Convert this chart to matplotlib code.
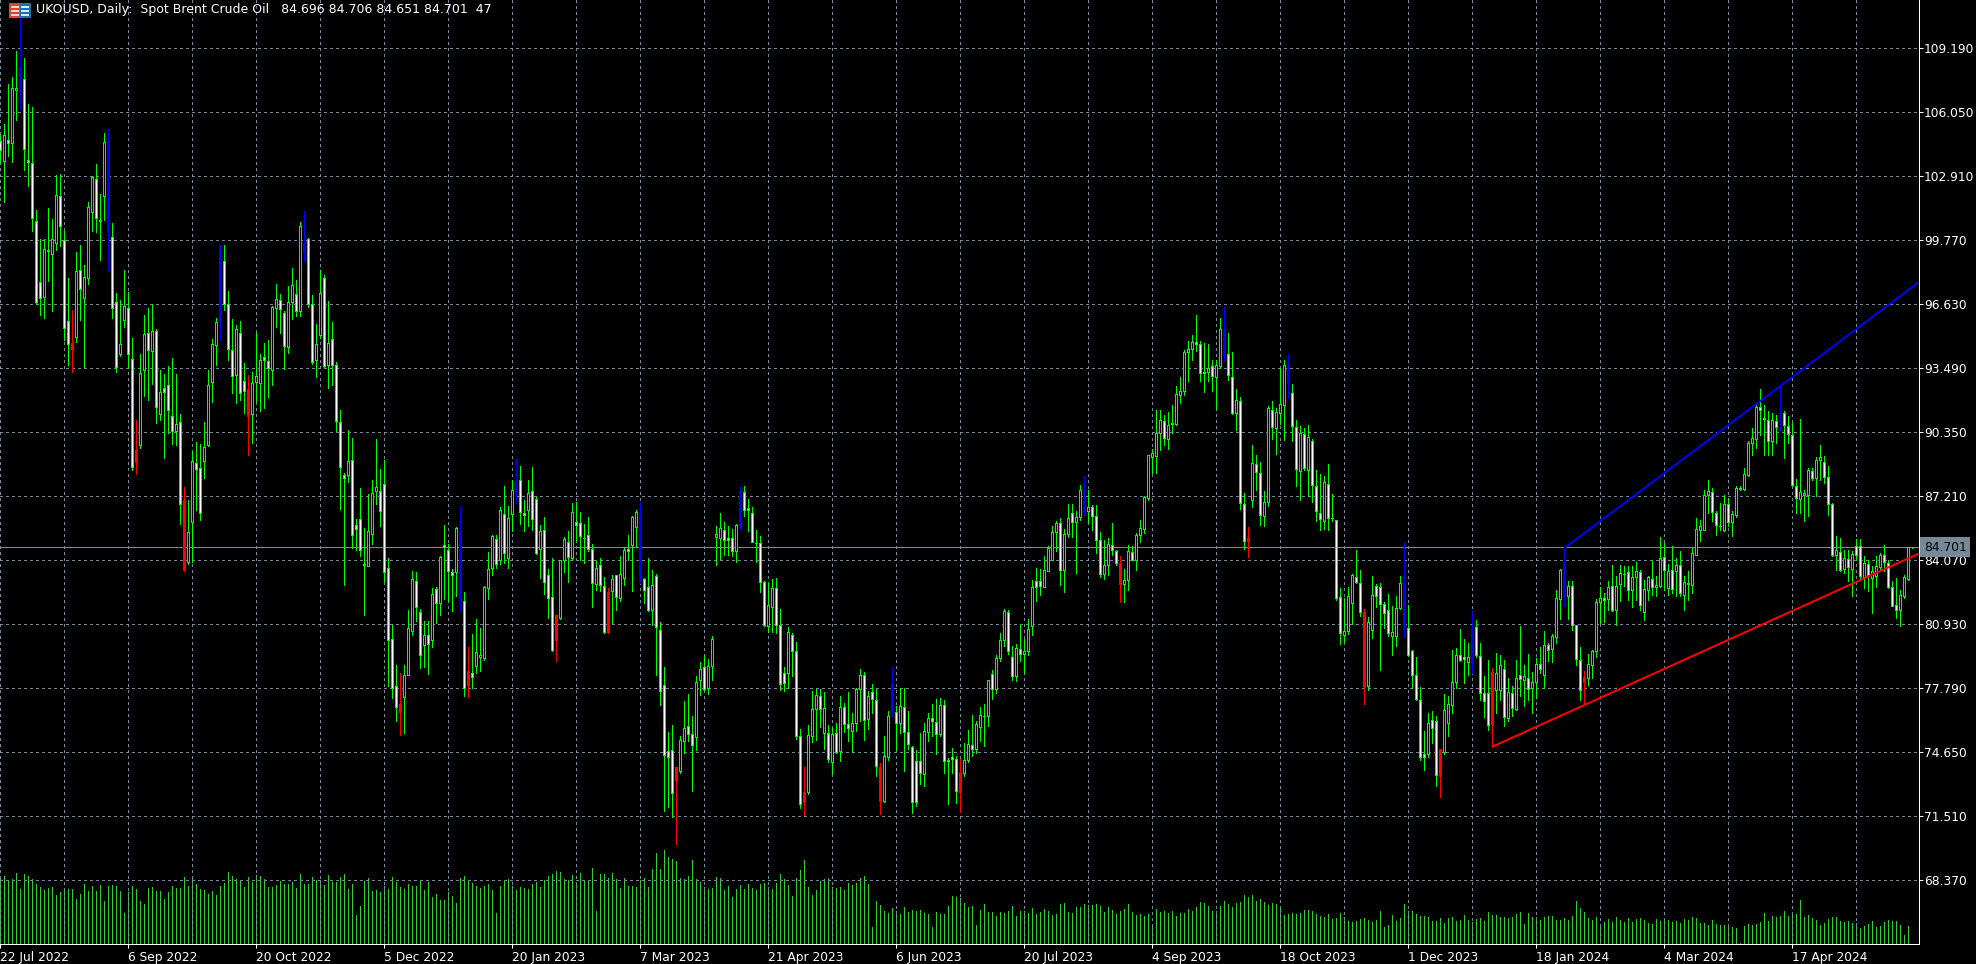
import numpy as np
import matplotlib
matplotlib.use('Agg')
import matplotlib.pyplot as plt
from matplotlib.patches import Rectangle

# daily bars
opens = [
    104.64,103.65,104.68,104.53,107.13,108.24,107.67,103.68,103.53,100.69,
    97.69,96.97,99.30,99.08,99.62,101.93,99.75,95.80,94.72,95.01,
    98.30,96.92,97.89,101.14,102.76,100.69,101.93,104.63,99.92,96.73,
    94.19,95.85,96.43,93.93,89.47,89.70,93.39,95.21,94.32,95.31,
    91.22,92.51,92.64,91.12,90.38,90.84,87.03,83.97,85.95,88.83,
    88.58,88.91,89.70,92.80,94.62,99.49,98.72,96.63,94.37,93.15,
    95.21,92.84,92.46,91.22,92.79,92.76,94.03,93.83,93.39,96.43,
    96.83,96.19,94.52,96.73,97.12,96.29,99.62,99.82,96.63,93.88,
    95.11,97.91,93.64,94.91,93.64,90.84,88.22,88.22,88.96,85.80,
    86.10,83.89,83.79,85.36,87.46,87.44,87.82,83.67,80.20,77.91,
    77.02,77.36,78.45,80.57,83.03,81.52,79.90,80.39,80.14,82.64,
    81.98,84.80,84.56,83.47,83.47,85.51,82.08,78.61,78.55,78.85,
    79.31,79.25,82.70,83.68,85.10,84.05,86.31,84.17,86.33,87.96,
    87.99,86.38,86.51,87.46,87.06,84.59,85.52,83.32,82.24,81.36,
    81.21,84.07,84.94,84.17,85.93,85.89,85.17,85.28,84.61,82.89,
    83.81,82.79,82.52,82.53,83.33,82.21,83.19,84.61,84.79,85.69,
    86.42,83.14,82.73,81.62,83.27,80.64,77.92,74.68,74.75,73.93,
    73.70,75.20,75.93,75.53,75.39,78.17,78.80,77.77,78.85,85.18,
    85.15,85.52,85.15,85.13,84.51,87.47,87.41,86.62,86.36,84.90,
    84.89,82.99,80.82,81.76,82.68,80.87,78.53,78.51,80.39,79.59,
    75.42,72.67,72.69,75.45,76.76,77.40,75.58,75.58,74.16,75.58,
    74.68,76.84,76.02,75.68,76.07,77.74,78.41,76.25,77.58,77.20,
    73.93,72.23,74.39,77.99,76.60,76.07,76.86,75.61,74.90,74.21,
    74.19,73.57,75.63,76.30,76.12,75.52,76.96,74.27,74.41,74.30,
    73.64,73.62,74.24,74.98,74.80,75.86,76.40,76.42,78.48,77.74,
    79.25,80.14,81.50,79.31,78.36,79.70,79.46,79.60,80.82,83.04,
    83.02,82.73,83.51,84.09,85.44,85.89,83.56,85.35,86.36,85.93,
    86.16,87.52,86.46,86.67,86.23,85.05,83.38,83.82,84.79,84.50,
    83.92,82.89,83.07,84.46,84.09,85.30,85.59,87.11,89.12,89.16,
    90.30,90.87,90.01,90.74,90.76,92.17,92.35,94.26,94.41,94.77,
    94.67,93.29,93.29,93.57,93.03,93.60,95.37,94.18,93.05,91.28,
    91.85,86.80,85.17,87.01,88.78,88.34,86.21,86.92,91.43,90.55,
    91.28,91.67,93.60,92.26,90.60,88.42,90.27,88.47,89.91,87.68,
    86.36,85.97,87.80,86.13,86.03,82.24,80.39,80.59,81.96,83.24,
    82.93,81.50,77.87,80.65,82.79,82.74,81.93,81.60,80.36,80.33,
    81.72,82.94,80.72,79.60,78.41,77.20,74.57,74.54,76.22,76.15,
    74.81,74.67,76.07,76.96,78.07,79.41,79.31,79.05,80.80,80.78,
    79.36,77.55,77.56,78.56,77.71,77.68,78.72,76.32,77.55,76.78,
    78.43,78.17,78.28,77.79,78.09,78.97,78.41,79.90,79.69,80.28,
    82.17,83.97,82.32,82.79,80.87,79.15,78.31,78.28,78.94,79.59,
    81.99,82.21,82.14,82.79,81.63,82.91,83.40,83.48,82.58,83.24,
    83.50,81.52,82.58,83.15,82.75,82.78,84.20,82.70,83.56,83.51,
    83.81,82.34,82.88,82.86,84.33,85.54,85.54,87.24,87.41,86.38,
    85.72,85.56,86.82,85.92,86.29,87.55,87.55,88.22,89.79,90.02,
    91.58,90.97,90.92,89.89,90.87,90.60,91.28,90.63,90.20,87.69,
    87.08,87.26,87.28,88.42,88.08,88.96,88.86,88.14,86.82,84.30,
    84.45,83.63,84.12,83.63,84.77,84.74,83.24,83.87,83.17,83.27,
    83.73,84.33,83.92,82.75,81.86,81.60,82.32,83.14,84.696,
]
closes = [
    104.17,104.92,104.53,107.21,107.23,107.02,104.24,103.60,100.85,96.73,
    96.92,99.33,99.21,99.82,101.98,100.46,95.45,94.67,94.44,98.25,
    97.35,97.96,101.39,102.88,100.83,100.75,104.58,100.21,96.43,93.52,
    94.67,96.53,94.18,88.63,88.86,93.25,95.16,94.37,95.31,91.58,
    92.31,92.31,91.41,90.38,90.73,86.82,83.60,85.45,88.93,88.54,
    86.38,89.61,92.66,94.67,95.75,95.73,96.65,94.42,93.10,95.40,
    92.26,92.36,91.12,92.76,93.10,93.88,93.88,93.51,96.48,96.88,
    96.39,94.57,96.73,97.56,96.29,100.46,99.13,96.63,93.78,94.67,
    97.17,93.59,94.72,93.64,90.89,88.63,88.08,88.93,85.31,85.61,
    84.58,83.83,85.51,87.37,87.65,86.47,83.50,80.13,77.81,76.86,
    76.62,78.41,80.73,83.13,81.78,79.40,80.39,79.94,82.40,81.98,
    84.22,84.70,83.51,83.33,85.65,82.12,77.81,77.95,78.31,79.54,
    79.43,82.75,83.63,85.23,83.87,86.51,84.41,86.11,87.50,87.28,
    86.42,86.26,87.36,86.08,84.41,85.49,82.99,82.20,79.67,80.13,
    84.07,85.12,84.20,86.42,85.77,85.25,85.13,84.61,82.92,83.68,
    82.83,80.54,80.54,83.12,82.25,83.38,84.56,84.50,86.18,86.42,
    83.04,82.61,81.63,82.84,80.78,77.64,74.52,74.39,72.64,73.26,
    75.24,75.83,75.53,74.98,78.10,78.72,77.74,78.87,80.21,85.33,
    85.64,85.05,85.05,84.51,85.79,85.64,86.52,86.51,84.95,84.89,
    82.99,80.87,81.86,82.70,80.90,77.97,78.04,80.54,79.60,75.45,
    72.12,72.20,75.48,76.76,77.45,76.76,76.79,74.30,75.53,74.67,
    76.86,76.04,75.83,76.07,77.74,78.41,76.22,77.40,77.25,73.95,
    72.23,74.44,76.42,76.60,76.07,76.89,75.63,75.04,72.21,72.18,
    73.62,75.68,76.32,76.19,75.53,76.96,74.21,74.19,74.30,72.74,
    72.70,74.27,75.04,74.78,76.04,76.46,76.42,78.18,77.74,79.26,
    80.14,81.57,79.60,78.36,79.74,79.46,79.60,80.68,82.73,82.74,
    82.81,83.59,84.66,85.44,85.89,83.56,85.35,86.13,85.93,86.16,
    87.50,86.46,86.67,86.24,85.05,83.38,83.82,84.85,84.56,83.92,
    82.89,83.07,84.50,84.09,85.30,85.62,87.16,89.22,89.32,90.30,
    90.94,90.04,90.69,90.79,92.21,92.35,94.29,94.41,94.78,94.67,
    93.23,93.23,93.49,93.08,93.62,95.40,94.14,93.13,91.28,91.92,
    86.87,85.00,84.99,88.83,88.39,86.28,86.92,91.53,90.58,91.33,
    91.71,93.62,92.75,90.63,88.53,90.30,88.57,90.10,87.75,86.47,
    86.08,87.90,86.11,86.13,82.19,80.49,80.59,82.29,83.33,82.97,
    81.52,77.90,81.01,82.35,82.30,81.93,81.47,80.49,80.52,81.70,
    82.94,80.68,79.41,78.43,77.25,74.39,74.40,76.07,75.81,73.52,
    73.46,76.73,77.01,78.09,79.41,79.18,79.21,79.31,79.00,79.39,
    77.53,77.14,75.99,76.01,78.53,78.92,76.37,77.59,76.81,78.28,
    78.25,78.38,77.76,78.10,78.97,78.71,79.90,79.67,80.36,82.21,
    83.60,82.32,82.78,80.88,79.21,77.71,78.07,78.97,79.61,82.01,
    82.21,82.09,82.75,81.63,82.79,83.43,83.40,82.58,83.24,83.53,
    81.85,82.65,83.24,82.75,82.84,84.17,83.58,83.51,82.66,83.81,
    82.43,82.99,82.94,84.41,85.59,85.75,87.26,87.46,86.41,85.77,
    85.72,86.82,85.93,86.33,87.60,87.62,88.27,89.81,90.04,91.58,
    91.41,91.04,89.93,90.92,90.60,90.46,90.69,90.25,87.75,87.11,
    87.39,87.36,88.50,88.11,88.99,89.11,88.16,86.82,84.30,84.54,
    83.56,84.17,83.71,84.38,84.30,83.27,83.92,83.35,83.51,83.76,
    84.33,83.96,82.75,81.83,81.63,82.35,83.24,84.69,84.701,
]
highs = [
    104.94,105.46,107.42,107.77,109.03,110.73,108.70,106.44,106.28,101.24,
    99.82,99.82,101.36,100.80,102.96,103.01,100.23,97.92,96.35,99.18,
    99.53,98.56,101.64,102.93,103.50,102.04,105.04,105.22,100.62,97.19,
    96.84,98.30,97.24,94.98,90.96,94.18,96.09,96.43,96.63,95.42,
    93.41,93.18,93.60,94.00,93.21,91.25,87.65,87.03,89.40,89.86,
    89.78,90.86,93.41,94.91,95.94,99.53,99.53,97.27,95.89,95.62,
    95.80,93.74,93.15,93.31,95.21,94.18,94.72,94.85,96.55,97.61,
    97.12,96.29,97.51,98.40,97.81,100.65,101.19,99.87,97.07,95.65,
    98.28,98.05,96.79,95.75,93.78,91.45,88.34,90.47,90.07,86.08,
    87.62,85.66,87.33,88.01,90.01,88.55,88.99,84.17,80.89,78.90,
    78.51,78.90,81.64,83.51,83.47,81.68,81.09,81.09,82.68,82.74,
    84.26,85.81,84.86,83.61,85.69,86.73,82.48,79.80,80.45,81.19,
    80.73,82.81,84.46,85.31,85.31,86.67,87.72,86.70,88.01,89.03,
    88.67,87.03,88.01,88.63,87.19,85.80,86.18,83.64,84.17,81.39,
    84.07,85.20,85.48,86.87,86.92,86.42,85.85,86.18,84.87,84.00,
    84.17,83.24,82.70,83.35,83.35,84.25,84.71,85.30,86.21,86.54,
    86.92,83.19,84.17,83.60,83.40,81.03,78.82,75.63,75.99,73.93,
    75.42,77.17,77.50,76.40,78.36,79.05,79.43,79.21,80.32,85.72,
    86.38,85.92,85.72,85.61,85.85,87.72,87.72,87.08,86.67,85.56,
    85.26,83.06,82.94,83.15,83.19,81.67,78.82,80.78,80.49,80.06,
    75.79,73.91,75.99,77.63,77.74,77.74,77.58,75.99,75.83,76.07,
    77.38,77.05,77.59,76.56,77.77,78.74,78.57,77.63,77.99,77.76,
    74.11,75.42,76.66,78.82,76.89,77.79,77.79,76.68,74.96,74.76,
    75.58,76.07,76.56,77.00,77.25,77.30,77.22,74.36,74.85,74.44,
    74.31,75.09,75.75,76.48,76.19,76.86,77.00,78.20,78.69,79.42,
    80.49,81.68,81.63,79.83,79.97,80.89,80.19,81.18,83.10,83.68,
    83.63,84.28,84.74,85.75,85.97,86.13,85.59,86.83,86.82,86.49,
    87.77,88.21,87.49,86.79,86.79,85.46,85.07,85.15,85.89,84.58,
    84.25,83.63,84.82,84.74,85.39,86.05,87.19,89.24,89.53,91.45,
    91.41,91.20,91.31,91.67,92.62,93.05,94.39,94.83,95.12,96.11,
    94.80,94.72,94.68,93.90,93.90,95.94,96.48,95.21,94.27,92.46,
    92.07,87.36,85.69,89.73,89.24,88.88,87.44,91.61,91.85,91.53,
    93.49,93.90,94.19,92.72,90.95,90.63,90.55,90.69,90.01,88.50,
    88.30,88.17,88.80,87.31,86.05,82.70,82.21,82.74,83.40,84.58,
    83.60,81.68,81.27,83.30,82.91,82.94,81.99,82.42,81.83,82.29,
    83.30,84.90,81.88,79.67,79.31,77.84,75.66,76.56,76.65,76.40,
    74.81,77.48,77.38,79.64,79.75,80.68,80.19,80.00,81.55,81.14,
    80.00,78.36,79.18,78.77,79.51,79.43,79.18,78.28,77.87,79.18,
    80.85,78.90,79.48,78.56,79.26,79.79,80.57,80.00,80.46,82.58,
    83.63,84.61,83.06,83.02,80.90,79.80,78.64,79.46,79.64,82.16,
    82.75,82.45,83.06,83.84,83.27,83.84,83.79,83.76,83.76,83.99,
    83.60,83.10,83.30,84.04,83.27,85.20,84.90,83.87,84.77,84.17,
    84.50,83.27,83.51,84.66,86.13,86.05,87.52,87.98,87.60,86.46,
    86.87,87.26,87.11,86.46,87.69,87.69,88.58,89.89,90.55,91.69,
    92.48,91.69,91.36,91.28,91.20,92.56,91.36,91.12,90.79,88.06,
    90.99,87.52,88.58,88.58,89.11,89.70,89.16,88.67,86.85,85.26,
    85.15,84.54,84.54,84.50,85.10,85.10,84.25,84.09,83.76,84.25,
    84.41,84.82,84.09,83.02,83.19,82.62,83.35,84.69,84.706,
]
lows = [
    103.55,101.62,103.91,103.58,105.64,106.20,103.19,102.40,100.20,96.63,
    96.07,95.93,97.74,96.30,99.30,99.49,94.85,93.62,93.28,94.75,
    95.83,93.52,97.63,100.23,100.15,98.77,100.74,98.25,95.93,93.28,
    94.10,95.49,93.49,88.47,88.27,89.55,92.10,91.90,92.72,90.78,
    90.92,89.06,90.31,89.75,89.70,85.82,83.52,83.87,83.97,86.54,
    86.05,88.08,89.65,91.84,93.62,94.85,96.35,93.87,92.26,91.77,
    91.90,91.28,89.24,89.79,91.81,91.36,91.51,92.05,92.64,95.50,
    95.21,93.44,94.21,95.89,96.03,96.03,98.72,96.48,93.67,93.03,
    94.96,93.54,92.53,92.64,90.38,86.57,82.86,87.88,84.68,84.58,
    84.28,81.39,83.76,84.87,86.83,85.72,82.97,77.91,77.32,76.17,
    75.47,75.57,78.41,80.39,81.09,78.75,78.80,78.47,79.80,80.99,
    81.39,82.18,82.08,81.58,82.28,81.58,77.42,77.36,77.81,78.55,
    78.60,79.15,82.17,83.32,83.68,83.89,83.92,83.68,85.48,86.87,
    85.85,85.48,85.75,85.56,84.38,83.17,82.39,81.24,79.59,79.10,
    81.18,83.50,83.01,84.09,84.99,84.09,83.91,84.53,81.78,82.61,
    82.53,80.49,80.49,80.98,81.60,82.04,82.82,84.09,82.57,84.77,
    82.94,81.96,81.55,80.87,78.44,76.97,71.74,71.94,71.45,70.15,
    73.62,74.60,75.17,72.72,74.76,77.46,77.63,77.51,78.17,83.81,
    84.12,84.32,84.33,84.25,83.96,85.59,86.25,85.48,84.94,83.96,
    82.48,80.82,80.52,80.55,80.49,77.71,77.63,77.79,78.36,75.29,
    71.89,71.58,72.60,75.12,75.22,75.88,74.80,74.14,73.59,74.60,
    74.19,75.61,75.21,74.63,75.66,76.16,75.26,75.78,76.56,73.46,
    71.62,72.18,74.27,76.40,74.76,75.58,73.70,74.80,71.66,72.02,
    73.10,72.97,75.17,75.42,74.57,75.42,73.62,72.12,73.62,72.15,
    71.69,73.46,74.14,74.44,74.60,75.17,74.93,75.91,77.27,77.54,
    79.10,79.83,79.44,78.20,78.12,79.10,78.53,79.39,80.41,82.08,
    82.37,82.73,83.51,84.05,84.53,82.86,82.48,85.20,85.20,83.43,
    86.05,86.29,85.89,85.56,84.41,83.24,83.14,83.35,84.33,83.84,
    81.99,81.99,82.58,84.05,83.59,84.95,85.39,87.03,88.34,88.34,
    89.48,89.73,89.53,90.30,90.71,91.77,92.18,92.84,93.90,94.31,
    92.84,92.30,92.84,92.34,91.48,93.49,93.82,92.92,91.25,90.43,
    86.57,84.61,84.22,86.65,87.52,85.80,85.75,86.70,90.01,89.29,
    90.76,89.94,92.07,89.89,87.68,87.03,88.50,87.19,86.90,85.97,
    85.56,85.59,85.56,85.97,82.12,79.93,80.06,80.44,80.95,82.94,
    81.31,77.02,77.67,80.23,81.76,78.66,80.73,80.36,79.39,79.83,
    81.67,80.29,79.38,77.79,77.18,74.27,73.78,74.40,75.09,73.00,
    72.43,74.57,75.45,76.56,77.79,79.10,78.04,78.44,78.53,79.31,
    77.19,76.37,75.75,74.91,76.56,77.22,75.91,76.16,76.40,76.73,
    77.38,76.89,77.22,76.56,77.30,78.53,77.79,79.10,79.07,80.00,
    81.18,81.83,81.19,80.62,78.94,77.19,77.01,77.92,78.28,79.31,
    80.98,81.01,81.63,81.55,80.87,82.04,82.78,82.12,81.75,82.12,
    81.63,81.11,82.12,82.37,82.32,82.75,82.58,82.37,82.45,82.29,
    82.29,81.60,82.12,82.45,84.30,85.02,85.53,86.38,85.97,85.31,
    85.53,85.48,85.72,85.23,86.18,87.52,87.52,88.18,89.24,89.57,
    90.22,89.24,89.24,89.24,89.81,90.43,89.07,89.81,87.69,86.38,
    86.38,85.97,86.21,88.01,87.23,88.01,87.85,86.29,84.25,83.60,
    83.51,83.43,83.02,82.32,84.09,83.19,82.70,82.53,81.47,82.75,
    83.51,83.51,82.70,81.80,81.23,80.82,82.21,83.10,84.651,
]
volumes = [
    65,68,64,65,71,55,70,68,65,60,57,54,56,57,49,52,53,55,55,45,
    50,60,53,58,53,59,43,58,59,58,53,31,52,58,55,43,40,56,57,53,
    53,45,52,58,56,56,67,58,65,60,55,54,50,53,49,58,61,72,68,65,
    64,57,67,62,69,68,65,57,57,59,63,60,60,62,56,70,60,60,67,64,
    63,59,69,62,62,67,70,55,60,29,38,63,66,53,54,52,58,55,67,62,
    57,55,60,58,58,64,54,62,47,50,44,44,52,48,41,66,68,63,61,58,
    56,58,60,54,31,58,64,65,58,54,
    57,56,55,60,62,57,64,68,70,73,72,65,64,69,59,71,64,63,76,33,
    70,70,66,71,65,56,66,58,58,57,64,66,57,75,91,75,94,87,85,83,
    66,65,68,84,65,62,57,55,56,67,66,54,58,47,55,59,55,60,56,54,
    60,61,57,55,61,70,65,59,48,66,74,84,57,49,54,63,65,66,57,56,
    57,54,61,59,61,66,68,60,17,43,39,33,31,36,33,30,37,32,34,33,
    34,31,30,17,32,30,30,38,48,47,46,41,37,38,19,34,40,32,32,28,
    32,31,33,38,28,33,33,31,36,30,
    32,35,33,29,30,40,41,32,31,37,37,40,39,39,40,38,32,37,34,30,
    33,35,40,32,29,30,28,30,17,35,32,33,31,33,28,31,31,35,33,37,
    42,41,38,33,33,38,43,40,37,41,42,49,47,49,43,45,42,39,41,40,
    35,29,30,31,30,31,34,34,33,30,28,27,30,25,26,31,27,23,22,23,
    25,26,24,22,24,33,17,19,29,23,26,40,33,33,30,28,28,27,23,23,
    26,21,26,27,23,24,29,24,22,25,26,23,32,29,29,27,27,26,27,30,
    32,20,31,27,27,24,27,28,28,24,
    24,26,24,28,43,36,32,26,24,27,20,22,25,22,27,24,22,26,22,25,
    26,24,21,20,25,23,26,24,22,23,21,25,24,27,26,
    21,21,19,24,20,19,19,17,17,16,1,18,20,19,20,22,31,23,28,27,
    28,33,28,29,30,44,27,29,26,24,19,21,25,27,27,23,22,23,21,21,
    16,18,20,23,17,18,22,24,23,23,19,9,18,0,
]

# bars the indicator paints as swing highs / swing lows
blue_bars = [5,27,55,76,115,129,160,185,223,271,306,322,351,368,391,445]
red_bars = [18,34,46,62,100,117,139,152,169,201,220,240,280,312,341,360,373,396]

date_labels = ['22 Jul 2022','6 Sep 2022','20 Oct 2022','5 Dec 2022','20 Jan 2023',
               '7 Mar 2023','21 Apr 2023','6 Jun 2023','20 Jul 2023','4 Sep 2023',
               '18 Oct 2023','1 Dec 2023','18 Jan 2024','4 Mar 2024','17 Apr 2024']
price_labels = [109.19,106.05,102.91,99.77,96.63,93.49,90.35,87.21,84.07,80.93,77.79,74.65,71.51,68.37]
last_price = 84.701

blue_line_x = [391, 479.6]
blue_line_y = [84.65, 97.7]
red_line_x = [373, 479.6]
red_line_y = [74.91, 84.38]

header = 'UKOUSD, Daily:  Spot Brent Crude Oil   84.696 84.706 84.651 84.701  47'

W, H = 1976, 964
PX = 0.72   # one pixel in points at dpi 100
GRID = '#778899'
LIME = '#00FF00'

plt.rcParams['font.family'] = 'DejaVu Sans'
plt.rcParams['font.size'] = 8.8

fig = plt.figure(figsize=(W / 100, H / 100), dpi=100, facecolor='black')
rect = [0, (H - 944) / H, 1919 / W, 944 / H]

# volume sits in its own axes, one unit is one pixel tall
vol_ax = fig.add_axes(rect, facecolor='black')
ax = fig.add_axes(rect, facecolor='none')

x = np.arange(len(closes))
opens_a, closes_a = np.array(opens), np.array(closes)

vol_ax.vlines(x, 0, volumes, colors='#32CD32', linewidth=PX, antialiased=False)
vol_ax.set_xlim(-0.075, 479.675)
vol_ax.set_ylim(0, 944)
vol_ax.axis('off')

wick_colors = [LIME] * len(x)
edge_colors = [LIME] * len(x)
fills = ['black' if c >= o else 'white' for o, c in zip(opens, closes)]
for i in blue_bars:
    wick_colors[i] = edge_colors[i] = fills[i] = '#0000FF'
for i in red_bars:
    wick_colors[i] = edge_colors[i] = fills[i] = '#FF0000'

ax.vlines(x, lows, highs, colors=wick_colors, linewidth=PX, antialiased=False, zorder=3)
ax.bar(x, np.abs(closes_a - opens_a), bottom=np.minimum(opens_a, closes_a), width=0.5,
       color=fills, edgecolor=edge_colors, linewidth=PX, antialiased=False, zorder=4)

ax.plot(blue_line_x, blue_line_y, color='#0000FF', linewidth=2 * PX, zorder=5, solid_capstyle='butt')
ax.plot(red_line_x, red_line_y, color='#FF0000', linewidth=2 * PX, zorder=5, solid_capstyle='butt')
ax.axhline(last_price, color=GRID, linewidth=PX, antialiased=False, zorder=2)

ax.set_xlim(-0.075, 479.675)
ax.set_ylim(65.23, 111.545)

ax.set_xticks(np.arange(len(date_labels)) * 32, labels=date_labels, ha='left')
ax.set_xticks(np.arange(0, 480, 16), minor=True)
ax.yaxis.tick_right()
ax.set_yticks(price_labels, labels=['%.3f' % p for p in price_labels])
ax.tick_params(which='major', colors='white', length=4 * PX, width=PX)
ax.tick_params(axis='x', which='major', pad=3 * PX)
ax.tick_params(axis='y', which='major', pad=PX)
ax.tick_params(which='minor', length=0)
ax.grid(True, which='both', color=GRID, linewidth=PX, linestyle=(0, (2.5, 3.5)), antialiased=False, zorder=1)
ax.set_axisbelow(True)

ax.spines['top'].set_visible(False)
ax.spines['left'].set_visible(False)
ax.spines['right'].set_color('white')
ax.spines['bottom'].set_color('white')
ax.spines['right'].set_linewidth(PX)
ax.spines['bottom'].set_linewidth(PX)

# current price tag on the right axis
ax.annotate('%.3f' % last_price, xy=(1, last_price), xycoords=('axes fraction', 'data'),
            xytext=(5, 0), textcoords='offset pixels', va='center', ha='left', color='black',
            bbox=dict(boxstyle='square,pad=0.3', fc=GRID, ec='none'), annotation_clip=False, zorder=10)


# small window icon before the header, given in image pixels
def icon_rect(left, top, width, height, color):
    fig.add_artist(Rectangle((left / W, 1 - (top + height) / H), width / W, height / H,
                             transform=fig.transFigure, facecolor=color, edgecolor='none'))


icon_rect(9, 3, 11, 15, '#D9433A')
icon_rect(20, 3, 11, 15, '#1F6FB5')
for top in (6, 10, 14):
    icon_rect(11, top, 8, 2, '#F6D5CF')
    icon_rect(21, top, 8, 2, '#D5E9F6')

fig.text(36 / W, 1 - 10 / H, header, color='white', va='center', ha='left', fontsize=9)

fig.savefig('out.png', dpi=100, facecolor='black')
plt.close()
